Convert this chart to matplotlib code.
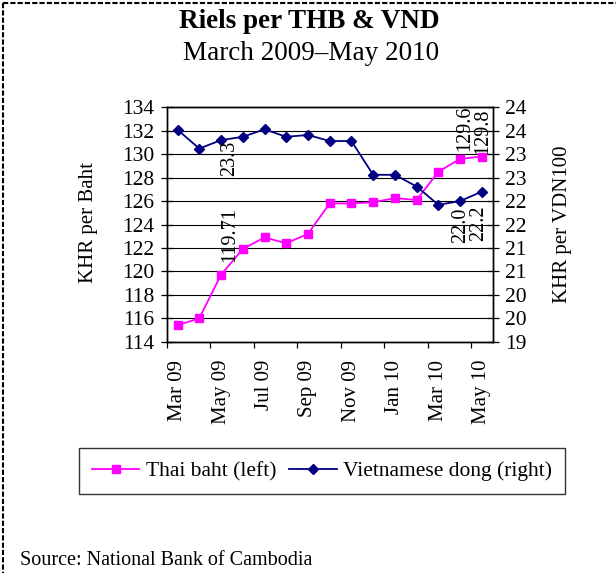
import matplotlib
matplotlib.use("Agg")
import matplotlib.pyplot as plt
from matplotlib.lines import Line2D

plt.rcParams['font.family'] = ['Liberation Serif', 'DejaVu Serif']

months = ["Mar 09", "Apr 09", "May 09", "Jun 09", "Jul 09", "Aug 09", "Sep 09", "Oct 09",
          "Nov 09", "Dec 09", "Jan 10", "Feb 10", "Mar 10", "Apr 10", "May 10"]
thb = [115.4, 116.0, 119.71, 121.9, 122.9, 122.4, 123.2, 125.8, 125.8, 125.9,
       126.25, 126.1, 128.5, 129.6, 129.8]
vnd = [23.52, 23.12, 23.3, 23.37, 23.53, 23.37, 23.41, 23.28, 23.28, 22.56,
       22.56, 22.31, 21.92, 22.0, 22.2]
left_ticks = [114, 116, 118, 120, 122, 124, 126, 128, 130, 132, 134]
right_ticks = [19, 19.5, 20, 20.5, 21, 21.5, 22, 22.5, 23, 23.5, 24]
right_tick_labels = ["19", "20", "20", "21", "21", "22", "22", "23", "23", "24", "24"]
thb_labels = {2: "119.71", 13: "129.6", 14: "129.8"}
vnd_labels = {2: "23.3", 13: "22.0", 14: "22.2"}

W, H = 616, 573
fig = plt.figure(figsize=(W / 100, H / 100), dpi=100)

def fx(px):
    return px / W

def fy(py):
    return 1 - py / H

ax = fig.add_axes([fx(166.7), fy(341.7), fx(492.7) - fx(166.7), fy(107.3) - fy(341.7)])
ax2 = ax.twinx()

x = list(range(len(months)))
pink = "#FF00FF"
navy = "#000080"

ax.plot(x, thb, color=pink, lw=1.3, marker="s", ms=5.5, mec=pink, mfc=pink, zorder=3,
        label="Thai baht (left)")
ax2.plot(x, vnd, color=navy, lw=1.3, marker="D", ms=4.8, mec=navy, mfc=navy, zorder=3,
         label="Vietnamese dong (right)")

ax.set_xlim(-0.5, len(months) - 0.5)
ax.set_ylim(left_ticks[0], left_ticks[-1])
ax2.set_ylim(right_ticks[0], right_ticks[-1])

ax.set_yticks(left_ticks)
ax.set_yticklabels([str(t) for t in left_ticks])
ax2.set_yticks(right_ticks)
ax2.set_yticklabels(right_tick_labels)

ax.yaxis.grid(True, color="black", lw=0.8)
ax.set_axisbelow(True)

# x ticks: labels every 2 months, tick marks at boundaries
ax.set_xticks(x[::2])
ax.set_xticklabels(months[::2], rotation=90, va="top", ha="center")
ax.set_xticks([i - 0.5 for i in x[::2]], minor=True)
ax.tick_params(axis="x", which="major", length=0, pad=13, labelsize=15)
ax.tick_params(axis="x", which="minor", length=4, width=0.9, direction="out")
ax.tick_params(axis="y", direction="inout", length=8, width=0.9, pad=5, labelsize=15.5)
ax2.tick_params(axis="y", direction="inout", length=8, width=0.9, pad=5, labelsize=15.5)

for a in (ax, ax2):
    for s in a.spines.values():
        s.set_color("black")
        s.set_linewidth(1.0)

# data labels
for i, txt in thb_labels.items():
    off = {2: (9, 13), 13: (5, 8), 14: (1, 3)}[i]
    ax.annotate(txt, (x[i], thb[i]), xytext=off, textcoords="offset pixels",
                rotation=90, ha="center", va="bottom", fontsize=14.5)
for i, txt in vnd_labels.items():
    off = {2: (9, -1), 13: (1, -7), 14: (-3, -14)}[i]
    ax2.annotate(txt, (x[i], vnd[i]), xytext=off, textcoords="offset pixels",
                 rotation=90, ha="center", va="top", fontsize=14.5)

# titles
fig.text(fx(309), fy(28.3), "Riels per THB & VND", ha="center", va="baseline",
         fontsize=19.5, fontweight="bold")
fig.text(fx(311), fy(60), "March 2009\u2013May 2010", ha="center", va="baseline",
         fontsize=19.5)

fig.text(fx(88), fy(222), "KHR per Baht", rotation=90, ha="center", va="center", fontsize=15)
fig.text(fx(562), fy(224), "KHR per VDN100", rotation=90, ha="center", va="center", fontsize=15)

# legend
h1, l1 = ax.get_legend_handles_labels()
h2, l2 = ax2.get_legend_handles_labels()
leg = fig.legend(h1 + h2, l1 + l2, loc="center", bbox_to_anchor=(fx(322), fy(471)),
                 ncol=2, frameon=True, fancybox=False, edgecolor="black", fontsize=15.5,
                 handlelength=2.2, handletextpad=0.3, columnspacing=0.6,
                 borderpad=0.6, borderaxespad=0)
leg.get_frame().set_linewidth(1.0)

fig.text(fx(20), fy(565), "Source: National Bank of Cambodia", ha="left", va="baseline",
         fontsize=14.5)

# dashed border (top and left)
fig.add_artist(Line2D([fx(3), 1], [fy(3), fy(3)], color="black", lw=1.5,
                      dashes=(2.5, 1.0), transform=fig.transFigure))
fig.add_artist(Line2D([fx(3), fx(3)], [fy(3), 0], color="black", lw=1.5,
                      dashes=(2.5, 1.0), transform=fig.transFigure))

fig.savefig("out.png", dpi=100)
